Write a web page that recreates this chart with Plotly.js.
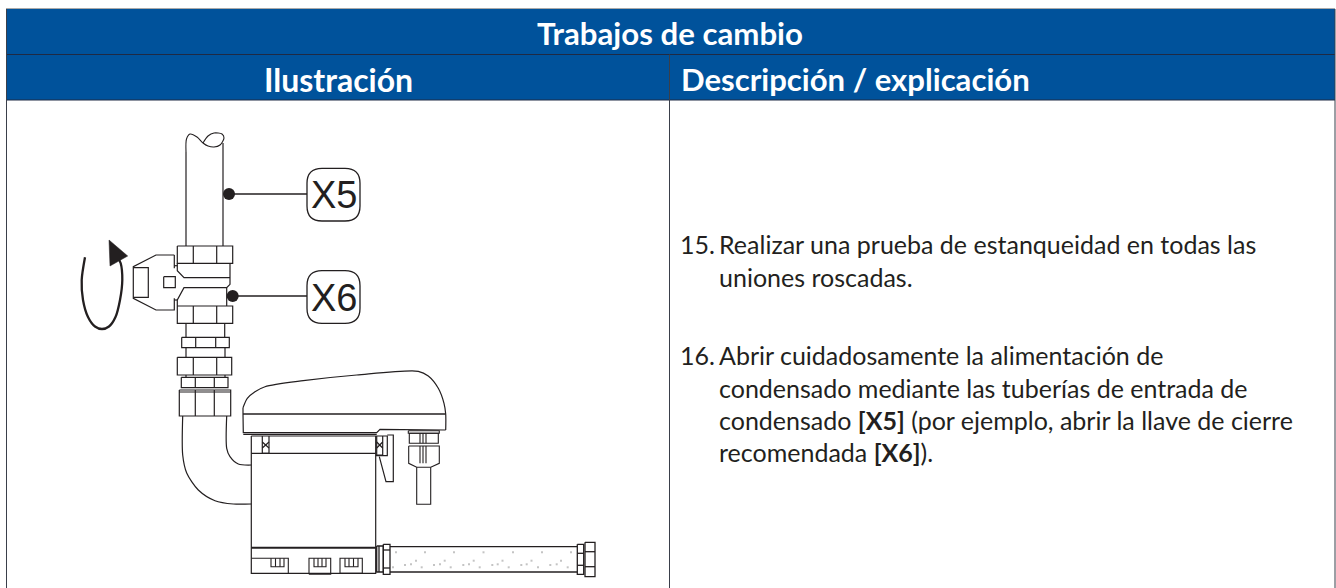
<!DOCTYPE html>
<html><head><meta charset="utf-8">
<script src="https://cdn.plot.ly/plotly-3.0.0.min.js"></script>
<style>html,body{margin:0;padding:0;background:#fff}#c{width:1336px;height:588px}</style></head>
<body><div id="c"></div>
<script>
const tableTitle = "Trabajos de cambio";
const columnHeaders = ["Ilustración", "Descripción / explicación"];
const stepNumbers = ["15.", "16."];
const stepLines = [
  "Realizar una prueba de estanqueidad en todas las",
  "uniones roscadas.",
  "Abrir cuidadosamente la alimentación de",
  "condensado mediante las tuberías de entrada de",
  "condensado <b>[X5]</b> (por ejemplo, abrir la llave de cierre",
  "recomendada <b>[X6]</b>)."
];
const calloutLabels = ["X5", "X6"];

// Illustration outline (null breaks a line)
const pipeX = [186,186,null,177.3,232.7,232.7,177.3,177.3,null,193.3,193.3,null,216.7,216.7,null,177.3,177.3,184,230,null,230,230,226.7,184,177.3,177.3,null,226.7,226.7,null,177.3,232.7,232.7,177.3,177.3,null,193.3,193.3,null,216.7,216.7,null,186,186,null,224.7,224.7,null,181.7,229.3,229.3,181.7,181.7,null,195.7,195.7,null,215.7,215.7,null,186,186,null,225,225,null,177.3,231.7,231.7,177.3,177.3,null,193.3,193.3,null,216.7,216.7,null,186,186,null,225,225,null,181.3,228,228,181.3,181.3,null,195.3,195.3,null,214.3,214.3,null,179.3,230.7,230.7,179.3,179.3,null,179.3,230.7,null,195.3,195.3,null,214.3,214.3];
const pipeY = [246,152,null,246,246,263.3,263.3,246,null,246,263.3,null,246,263.3,null,263.3,270.7,277.7,277.7,null,263,284.3,287.7,287.7,300,306,null,287.7,306,null,306,306,323.3,323.3,306,null,306,323.3,null,306,323.3,null,323,337,null,323,337,null,337.3,337.3,347.7,347.7,337.3,null,337.3,347.7,null,337.3,347.7,null,347.7,357,null,347.7,357,null,357.3,357.3,375,375,357.3,null,357.3,375,null,357.3,375,null,375,377.3,null,375,377.3,null,377.3,377.3,387.7,387.7,377.3,null,377.3,387.7,null,377.3,387.7,null,390,390,416,416,390,null,392,392,null,390,416,null,390,416];
const pipeRightX = [223,223];
const pipeRightY = [143,246];
const waveX = [186,186.5,190,197,203,208,214,220,224,222,214,208,203];
const waveY = [152,139,134,137,143,146,147,145,138,134,133,136,143];
const handleX = [174.3,156,133.3,133.3,156,174.3,174.3,null,174.3,174.3,null,174.3,177.3,null,174.3,177.3,null,133.3,148.3,148.3,133.3,null,163.7,175.3,175.3,163.7,163.7];
const handleY = [255,255,266.7,298.3,310,310,298.3,null,255,268.3,null,265.7,265.7,null,300,300,null,267.7,267.7,297.3,297.3,null,276.7,276.7,287.7,287.7,276.7];
const elbowOuterX = [182.7,182.7,186.7,198.3,215,233.3,251.3];
const elbowOuterY = [416,455,473,490,500.7,504,504];
const elbowInnerX = [226.7,226.7,230,238.3,251.3];
const elbowInnerY = [416,448.3,456.7,464,465];
const lidX = [243,247.3,255,265,303.3,356.7,418.3,428.3,438.3,444,445.7,445.7];
const lidY = [407.7,398.3,391.7,386.7,380.7,375,371.3,376,388.3,403.3,414,430];
const bodyX = [445.7,408.3,380,376.7,243.3,243,243,null,243.3,376.7,null,251.3,387.3,387.3,375.7,null,251.3,251.3,375.7,375.7,null,251.3,375.7,null,387.3,393.3,393.3,386,379.3,null,262.3,262.3,269,269,null,262.3,269,null,262.3,269,null,376.7,376.7,382.7,382.7,null,376.7,382.7,null,376.7,382.7];
const bodyY = [430,430,429.3,432.7,432.7,414,407.7,null,434.3,434.3,null,436,436,455.7,455.7,null,436,573.3,573.3,436,null,453.3,453.3,null,435,435,481.7,481.7,456.7,null,436,453.3,453.3,436,null,442,448,null,448,442,null,436,455,455,436,null,442,448,null,448,442];
const glandX = [408.3,439.3,439.3,408.3,408.3,null,409.3,438.3,438.3,409.3,409.3,null,420,420,null,423,423,null,426,426,null,408.7,439.3,439.3,430.7,416.7,408.7,408.7,null,420,420,null,423,423,null,426,426,null,416.7,416.7,430.7,430.7];
const glandY = [430.7,430.7,433.3,433.3,430.7,null,433.3,433.3,443.3,443.3,433.3,null,433.3,443.3,null,433.3,443.3,null,433.3,443.3,null,446,446,463.3,467.3,467.3,463.3,446,null,446,463.3,null,446,463.3,null,446,463.3,null,467.3,504.3,504.3,467.3];
const baseX = [251.7,288.3,288.3,null,309,330.7,330.7,309,309,null,340,362.3,362.3,340,340,null,271,271,284,284,null,275.5,275.5,null,280,280,null,314,314,326,326,null,318,318,null,322,322,null,345,345,358,358,null,349,349,null,353.5,353.5];
const baseY = [558.3,558.3,573.3,null,574.3,574.3,558.3,558.3,574.3,null,573.3,573.3,558.3,558.3,573.3,null,558.3,566.7,566.7,558.3,null,558.3,566.7,null,558.3,566.7,null,558.3,566.7,566.7,558.3,null,558.3,566.7,null,558.3,566.7,null,558.3,566.7,566.7,558.3,null,558.3,566.7,null,558.3,566.7];
const filterX = [376.7,383.3,383.3,376.7,376.7,null,383.3,390,390,383.3,383.3,null,379,379,null,383.3,390,null,383.3,390,null,390,577,null,390,577,null,577.3,583.7,583.7,577.3,577.3,null,577.3,583.7,null,577.3,583.7,null,585,595,595,585,585,null,585,595,null,585,595];
const filterY = [546,546,572,572,546,null,544.3,544.3,574.3,574.3,544.3,null,546,572,null,550,550,null,568,568,null,546.7,546.7,null,572,572,null,544.3,544.3,574.3,574.3,544.3,null,553.3,553.3,null,565.3,565.3,null,542.3,542.3,576.7,576.7,542.3,null,551.7,551.7,null,566.7,566.7];
const speckX = [396,425,454,483.5,513,542,571,416,444.7,473.7,502.5,531.5,561,393,421.7,450.7,479.7,508.7,538,567.7,405,434,463.3,492.3,521.3,550.3,411,440,469,497.7,526.7,556.7];
const speckY = [552.3,552.3,552.3,552.3,552.3,552.3,552.3,560.7,560.7,560.7,560.7,560.7,560.7,567.3,567.3,567.3,567.3,567.3,567.3,567.3,565,565,565,565,565,565,564.3,564.3,564.3,564.3,564.3,564.3];
const arrowArcX = [85,81.7,83,88,95,102,109,115.5,120,122.3,120.7,117.5];
const arrowArcY = [257.3,280,300,317,326.5,329,326.5,317,300,280,263.3,257];
const arrowHeadX = [109,127.7,110,109];
const arrowHeadY = [240,256,266,240];
const leaderDotX = [229,232.7];
const leaderDotY = [194,296];

const ink = "#231f20", lineCol = "#1f2a44", blue = "#00529b";
const FONT = "Lato, 'Open Sans', sans-serif";
function line(x,y,w,shape){return {x,y,type:"scatter",mode:"lines",hoverinfo:"skip",showlegend:false,connectgaps:false,line:{color:ink,width:w||1,shape:shape||"linear",smoothing:0.8}};}

const traces = [
  line(pipeX,pipeY,1.2), line(pipeRightX,pipeRightY,1.2), line(waveX,waveY,1.1,"spline"),
  line(handleX,handleY,1.2), line(elbowOuterX,elbowOuterY,1.2,"spline"), line(elbowInnerX,elbowInnerY,1.2,"spline"),
  line(lidX,lidY,1.2,"spline"), line(bodyX,bodyY,1.2), line(glandX,glandY,1.1), line(baseX,baseY,1.1), line(filterX,filterY,1.3),
  line([243,445.7],[414,414],1.6), line([251.3,375.7],[547.7,547.7],2),
  line(arrowArcX,arrowArcY,2.3,"spline"),
  {x:arrowHeadX,y:arrowHeadY,type:"scatter",mode:"lines",fill:"toself",fillcolor:ink,line:{color:ink,width:0.5},hoverinfo:"skip",showlegend:false},
  line([229,307],[194,194],1.3), line([232.7,307],[296,296],1.3),
  {x:leaderDotX,y:leaderDotY,type:"scatter",mode:"markers",marker:{color:ink,size:12},hoverinfo:"skip",showlegend:false},
  {x:speckX,y:speckY,type:"scatter",mode:"markers",marker:{color:"#c4c4c4",size:2,symbol:"square"},hoverinfo:"skip",showlegend:false}
];

function rrect(l,t,r,b,c){return `M${l+c},${t} H${r-c} Q${r},${t} ${r},${t+c} V${b-c} Q${r},${b} ${r-c},${b} H${l+c} Q${l},${b} ${l},${b-c} V${t+c} Q${l},${t} ${l+c},${t} Z`;}
const sh = (o)=>Object.assign({xref:"x",yref:"y",layer:"below"},o);
const shapes = [
  sh({type:"rect",x0:6.5,x1:1335,y0:9,y1:100,fillcolor:blue,line:{width:0}}),
  sh({type:"line",x0:6,x1:1335,y0:8.5,y1:8.5,line:{color:"#aaaaaa",width:1}}),
  sh({type:"line",x0:6.5,x1:1335,y0:54.5,y1:54.5,line:{color:lineCol,width:1}}),
  sh({type:"line",x0:6.5,x1:1335,y0:100,y1:100,line:{color:lineCol,width:1.2}}),
  sh({type:"line",x0:6.5,x1:6.5,y0:9,y1:588,line:{color:"#3a3f4a",width:1}}),
  sh({type:"line",x0:669.5,x1:669.5,y0:54.5,y1:588,line:{color:"#3a3f4a",width:1}}),
  sh({type:"line",x0:1335,x1:1335,y0:9,y1:588,line:{color:"#3a3f4a",width:1}}),
  sh({type:"path",path:rrect(307,168.3,360,221,15),line:{color:ink,width:1.3},layer:"above"}),
  sh({type:"path",path:rrect(307,270.7,360,323.3,15),line:{color:ink,width:1.3},layer:"above"})
];

const ann = (text,x,y,size,color,anchor,family)=>({text,x,y,xref:"x",yref:"y",showarrow:false,xanchor:anchor||"left",yanchor:"middle",font:{family:family||FONT,size,color:color||ink},borderpad:0});
const annotations = [
  ann("<b>"+tableTitle+"</b>",669.5,32.5,31.2,"#fff","center"),
  ann("<b>"+columnHeaders[0]+"</b>",338.5,79,32,"#fff","center"),
  ann("<b>"+columnHeaders[1]+"</b>",680,79,31.1,"#fff","left"),
  ann(stepNumbers[0],679,244,25),
  ann(stepLines[0],718,244,25),
  ann(stepLines[1],718,276.5,25),
  ann(stepNumbers[1],679,354.5,25),
  ann(stepLines[2],718,354.5,25),
  ann(stepLines[3],718,387.5,25),
  ann(stepLines[4],718,420,25),
  ann(stepLines[5],718,451.5,25),
  ann(calloutLabels[0],333.5,195,38,ink,"center","'Liberation Sans', Arial, sans-serif"),
  ann(calloutLabels[1],333.5,297.5,38,ink,"center","'Liberation Sans', Arial, sans-serif")
];

Plotly.newPlot("c",traces,{
  width:1336,height:588,margin:{l:0,r:0,t:0,b:0},
  paper_bgcolor:"#fff",plot_bgcolor:"#fff",showlegend:false,
  xaxis:{range:[0,1336],visible:false,fixedrange:true},
  yaxis:{range:[588,0],visible:false,fixedrange:true},
  shapes,annotations
},{staticPlot:true,displayModeBar:false});
</script></body></html>
